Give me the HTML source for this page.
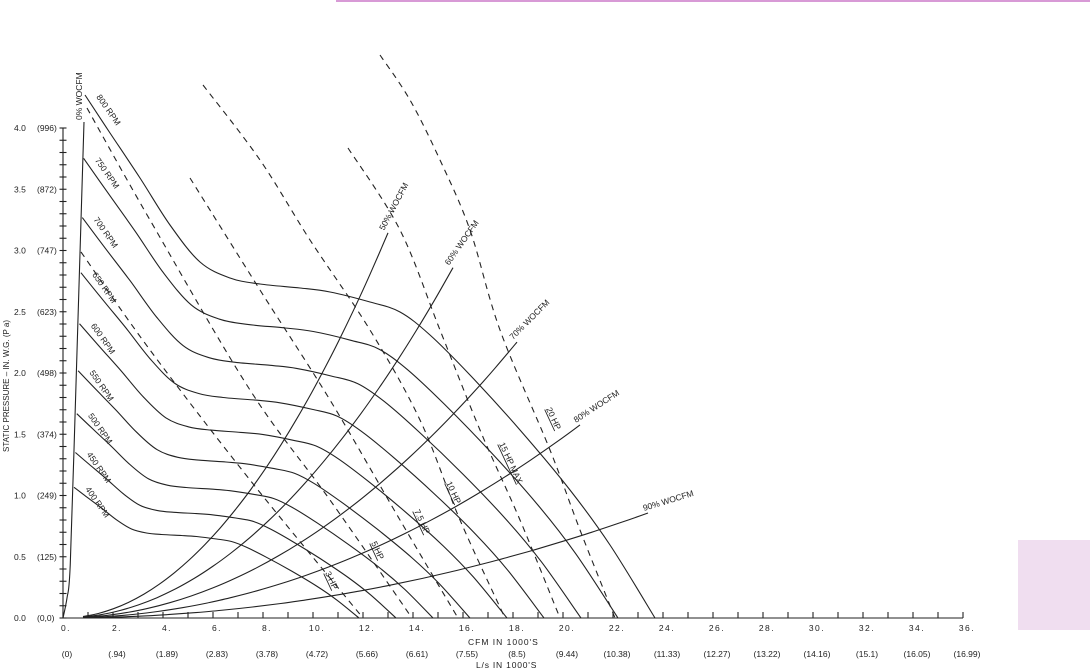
<!DOCTYPE html>
<html><head><meta charset="utf-8"><style>
html,body{margin:0;padding:0;background:#fff;}
svg{display:block;font-family:"Liberation Sans",sans-serif;}
</style></head><body>
<svg id="s" width="1090" height="671" viewBox="0 0 1090 671" xmlns="http://www.w3.org/2000/svg">
<rect x="336" y="0" width="754" height="2" fill="#d89ad6"/>
<rect x="1018" y="540" width="72" height="90" fill="#f0def0"/>
<g id="g" fill="none" stroke="#222" stroke-width="1.1"></g>
<g id="t" fill="#222" font-size="9"></g>
</svg>
<script>
var NS="http://www.w3.org/2000/svg",g=document.getElementById('g'),t=document.getElementById('t');
function X(q){return 63+25*q;} function Y(p){return 618-122.5*p;}
function cr(pts){var d="M"+pts[0][0].toFixed(1)+","+pts[0][1].toFixed(1);
for(var i=0;i<pts.length-1;i++){var p0=pts[i-1]||pts[i],p1=pts[i],p2=pts[i+1],p3=pts[i+2]||p2;
var c1=[p1[0]+(p2[0]-p0[0])/6,p1[1]+(p2[1]-p0[1])/6],c2=[p2[0]-(p3[0]-p1[0])/6,p2[1]-(p3[1]-p1[1])/6];
d+=" C"+c1[0].toFixed(1)+","+c1[1].toFixed(1)+" "+c2[0].toFixed(1)+","+c2[1].toFixed(1)+" "+p2[0].toFixed(1)+","+p2[1].toFixed(1);}return d;}
function path(d,dash,sw){var e=document.createElementNS(NS,'path');e.setAttribute('d',d);if(dash)e.setAttribute('stroke-dasharray',dash);if(sw)e.setAttribute('stroke-width',sw);g.appendChild(e);}
function line(a,b,c,d2){path("M"+a+","+b+" L"+c+","+d2);}
function txt(x,y,s,rot,size,anchor,extra){var e=document.createElementNS(NS,'text');e.setAttribute('x',x);e.setAttribute('y',y);if(rot)e.setAttribute('transform','rotate('+rot+' '+x+' '+y+')');if(size)e.setAttribute('font-size',size);if(anchor)e.setAttribute('text-anchor',anchor);if(extra)for(var k in extra)e.setAttribute(k,extra[k]);e.textContent=s;t.appendChild(e);}
// axes
line(63,618,963,618); line(63,128,63,618);
for(var q=0;q<=36;q++){line(X(q),612,X(q),618);}
for(var i=0;i<=40;i++){var y=Y(i/10);line(59.5,y,66.5,y);}
var yl=[["4.0","(996)"],["3.5","(872)"],["3.0","(747)"],["2.5","(623)"],["2.0","(498)"],["1.5","(374)"],["1.0","(249)"],["0.5","(125)"],["0.0","(0,0)"]];
for(var i=0;i<9;i++){var p=4-i*0.5,y=Y(p)+3;txt(14,y,yl[i][0],0,8.5);txt(37,y,yl[i][1],0,8.5);}
var ls=["(0)","(.94)","(1.89)","(2.83)","(3.78)","(4.72)","(5.66)","(6.61)","(7.55)","(8.5)","(9.44)","(10.38)","(11.33)","(12.27)","(13.22)","(14.16)","(15.1)","(16.05)","(16.99)"];
for(var i=0;i<=18;i++){var x=X(2*i);txt(x+(i==0?3:4),631,(2*i)+".",0,8.5,"middle",{"letter-spacing":"1.5"});txt(x+4,657,ls[i],0,8.5,"middle");}
txt(468,645,"CFM IN    1000'S",0,8.5,null,{"letter-spacing":"1","xml:space":"preserve"});
txt(476,668,"L/s IN 1000'S",0,8.5,null,{"letter-spacing":"0.8"});
txt(9,452,"STATIC PRESSURE – IN. W.G.   (P a)",-90,8,null,{"xml:space":"preserve"});
// 0% line
path(cr([[63,618],[67,598],[70,570],[74,450],[84,122]]));
txt(82,120,"0% WOCFM",-90,8.5);
// RPM curves via fan laws from 800 base
var base=[[85,95],[110,133],[140,178],[170,225],[200,262],[230,278],[260,284],[300,288],[330,292],[370,302],[400,312],[430,335],[470,375],[520,430],[570,490],[610,545],[655,618]].map(function(a){return [(a[0]-63)/25,(618-a[1])/122.5];});
[800,750,700,650,600,550,500,450,400].forEach(function(n){var r=n/800;var pts=base.map(function(a){return [X(a[0]*r),Y(a[1]*r*r)];});path(cr(pts));
var s=pts[0];txt(s[0]+11,s[1]+2,n+" RPM",55,8.5);});
// WOCFM parabolas
[[0.0186,13,"50% WOCFM",-62],[0.01175,15.6,"60% WOCFM",-55],[0.00683,18.16,"70% WOCFM",-45],[0.003685,20.68,"80% WOCFM",-33],[0.001565,23.4,"90% WOCFM",-17]].forEach(function(w){
var pts=[];for(var q=0.8;q<=w[1]+0.001;q+=(w[1]-0.8)/20)pts.push([X(q),Y(w[0]*q*q)]);path(cr(pts));var e=pts[pts.length-1];txt(e[0]-4,e[1]-2,w[2],w[3],8.5);});
// HP dashed
var hp=[
[[[81,252],[150,350],[250,480],[363,618]],"3 HP",[325,573]],
[[[87,108],[150,220],[250,390],[330,500],[412,618]],"5 HP",[371,543]],
[[[190,178],[260,290],[330,400],[400,520],[458,618]],"7.5 HP",[414,511]],
[[[203,85],[260,160],[310,240],[370,330],[420,420],[460,520],[505,618]],"10 HP",[446,483]],
[[[348,148],[400,230],[440,330],[480,430],[520,520],[560,618]],"15 HP MAX",[499,444]],
[[[380,55],[410,100],[440,160],[470,230],[500,330],[550,450],[580,530],[615,618]],"20 HP",[546,409]]];
hp.forEach(function(h){path(cr(h[0]),"6,5");txt(h[2][0],h[2][1],h[1],65,8.5,null,{"text-decoration":"underline"});});
</script>
</body></html>
